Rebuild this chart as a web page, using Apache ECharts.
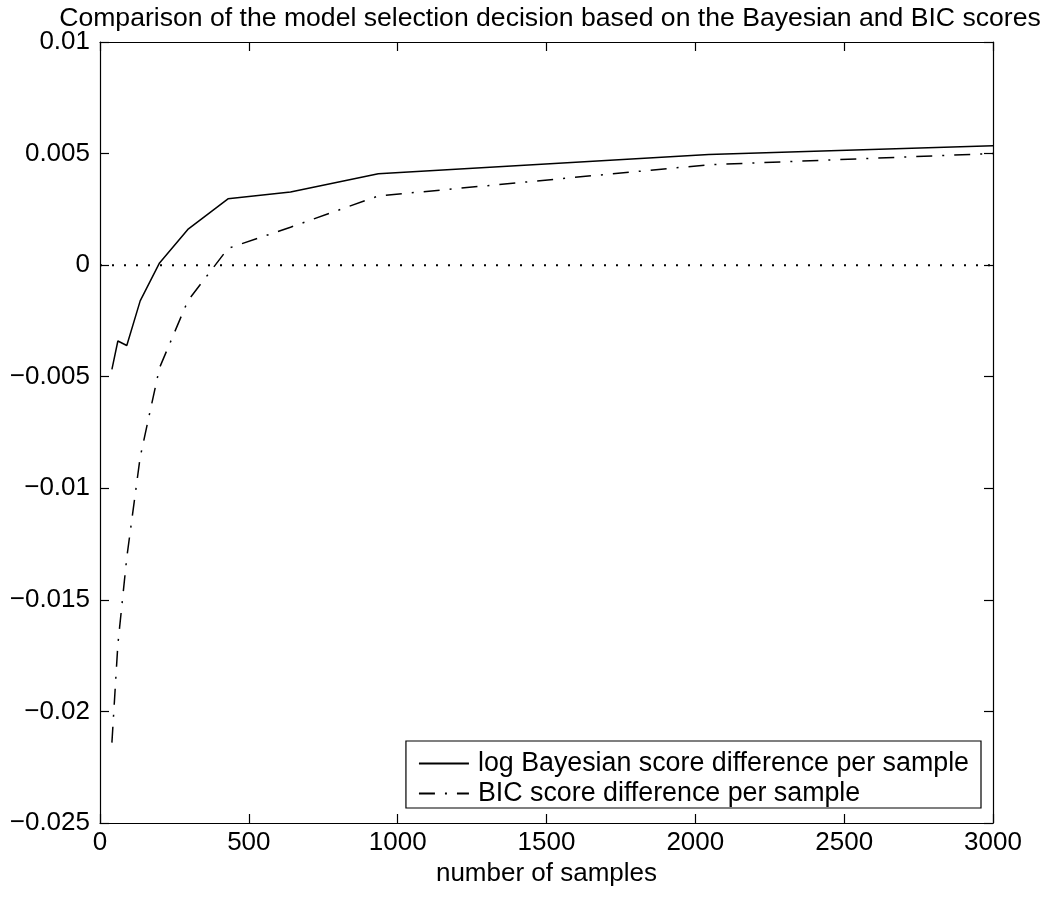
<!DOCTYPE html>
<html>
<head>
<meta charset="utf-8">
<title>Bayesian vs BIC score difference</title>
<script src="https://cdn.jsdelivr.net/npm/echarts@6/dist/echarts.min.js"></script>
<style>
  html, body { margin: 0; padding: 0; background: #fff; }
  #chart { width: 1048px; height: 898px; }
</style>
</head>
<body>
<div id="chart"></div>
<script>
// values
const sampleSizes = [40, 60, 90, 135, 200, 295, 430, 640, 935, 2045, 3000];
const bayesDiff = [-0.00467, -0.0034, -0.0036, -0.0016, 0.0001, 0.0016, 0.00297, 0.00328, 0.0041, 0.00496, 0.00535];
const bicDiff = [-0.0214, -0.0170, -0.0131, -0.0086, -0.0046, -0.0016, 0.00075, 0.0017, 0.0031, 0.0045, 0.0050];
// dotted reference line at zero
const zeroX = [0, 3000];
const zeroY = [0, 0];

const seriesNames = ['log Bayesian score difference per sample', 'BIC score difference per sample'];
const FONT = '"Liberation Sans", Arial, Helvetica, sans-serif';
const FS = 26;

const pairs = (xs, ys) => xs.map((x, i) => [x, ys[i]]);
const fmtY = (v) => String(+v.toFixed(3)).replace('-', '\u2212');

const chart = echarts.init(document.getElementById('chart'), null, { renderer: 'canvas' });

const axisCommon = {
  type: 'value',
  axisLine: { show: true, onZero: false, lineStyle: { color: '#000', width: 1.2 } },
  axisTick: { show: true, inside: true, length: 9, lineStyle: { color: '#000', width: 1.2 } },
  splitLine: { show: false },
};

const option = {
  animation: false,
  backgroundColor: '#fff',
  textStyle: { fontFamily: FONT, color: '#000' },
  title: {
    text: 'Comparison of the model selection decision based on the Bayesian and BIC scores',
    left: 545,
    textAlign: 'center',
    top: 0,
    textStyle: { fontFamily: FONT, fontSize: 26.6, fontWeight: 'normal', color: '#000' },
  },
  grid: { left: 100, right: 55, top: 42, bottom: 75 },
  legend: {
    data: seriesNames,
    orient: 'vertical',
    right: 67,
    top: 741,
    padding: [9, 12, 1, 12],
    itemGap: 3,
    itemWidth: 50,
    itemHeight: 24,
    borderColor: '#000',
    borderWidth: 1.2,
    borderRadius: 0,
    backgroundColor: '#fff',
    itemStyle: { color: 'transparent', borderWidth: 0 },
    textStyle: { fontFamily: FONT, fontSize: 26.8, color: '#000', padding: [0, 0, 0, 4] },
  },
  xAxis: [
    {
      ...axisCommon,
      position: 'bottom',
      min: 0,
      max: 3000,
      interval: 500,
      name: 'number of samples',
      nameLocation: 'middle',
      nameGap: 31,
      nameTextStyle: { fontFamily: FONT, fontSize: FS, color: '#000' },
      axisLabel: { fontFamily: FONT, fontSize: FS, color: '#000', margin: 7, formatter: (v) => String(v) },
    },
    {
      ...axisCommon,
      position: 'top',
      min: 0,
      max: 3000,
      interval: 500,
      axisLabel: { show: false },
    },
  ],
  yAxis: [
    {
      ...axisCommon,
      position: 'left',
      min: -0.025,
      max: 0.01,
      interval: 0.005,
      axisLabel: { fontFamily: FONT, fontSize: FS, color: '#000', margin: 10, formatter: fmtY },
    },
    {
      ...axisCommon,
      position: 'right',
      min: -0.025,
      max: 0.01,
      interval: 0.005,
      axisLabel: { show: false },
    },
  ],
  series: [
    {
      name: 'zero',
      type: 'line',
      data: pairs(zeroX, zeroY),
      symbol: 'none',
      silent: true,
      lineStyle: { color: '#000', width: 2, type: [2, 10] },
    },
    {
      name: seriesNames[0],
      type: 'line',
      data: pairs(sampleSizes, bayesDiff),
      symbol: 'none',
      lineStyle: { color: '#000', width: 1.5, type: 'solid' },
      itemStyle: { color: '#000' },
    },
    {
      name: seriesNames[1],
      type: 'line',
      data: pairs(sampleSizes, bicDiff),
      symbol: 'none',
      lineStyle: { color: '#000', width: 1.5, type: [16, 10, 2, 10] },
      itemStyle: { color: '#000' },
    },
  ],
};

chart.setOption(option);
</script>
</body>
</html>
